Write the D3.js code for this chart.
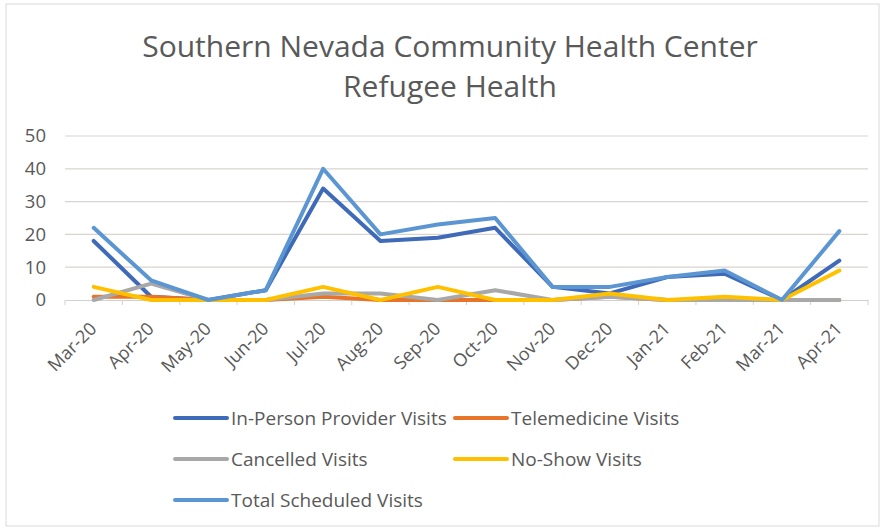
<!DOCTYPE html>
<html><head><meta charset="utf-8">
<script src="https://cdn.jsdelivr.net/npm/d3@7"></script>
<style>body{margin:0;background:#fff}svg{display:block}text{font-family:"Open Sans",sans-serif}</style>
</head><body><svg id="c" width="883" height="530"></svg>
<script>
const categories = ["Mar-20","Apr-20","May-20","Jun-20","Jul-20","Aug-20","Sep-20","Oct-20","Nov-20","Dec-20","Jan-21","Feb-21","Mar-21","Apr-21"];
const inPerson   = [18, 1, 0, 3, 34, 18, 19, 22, 4, 2, 7, 8, 0, 12];
const telemed    = [1, 1, 0, 0, 1, 0, 0, 0, 0, 1, 0, 0, 0, 0];
const cancelled  = [0, 5, 0, 0, 2, 2, 0, 3, 0, 1, 0, 0, 0, 0];
const noShow     = [4, 0, 0, 0, 4, 0, 4, 0, 0, 2, 0, 1, 0, 9];
const total      = [22, 6, 0, 3, 40, 20, 23, 25, 4, 4, 7, 9, 0, 21];
const yTicks = [0, 10, 20, 30, 40, 50];
const seriesNames = ["In-Person Provider Visits","Telemedicine Visits","Cancelled Visits","No-Show Visits","Total Scheduled Visits"];
const seriesColors = ["#3E6AB8","#E8742A","#A8A8A8","#FFC000","#5B96D3"];
const seriesData = [inPerson, telemed, cancelled, noShow, total];

const svg = d3.select("#c");
svg.append("rect").attr("x",6).attr("y",4).attr("width",873).attr("height",522)
  .attr("fill","none").attr("stroke","#d9d9d9").attr("stroke-width",1);

const L=65, R=868, T=136, B=300;
const x = d3.scaleBand().domain(categories).range([L,R]);
const y = d3.scaleLinear().domain([0,50]).range([B,T]);

const title = svg.append("g").attr("fill","#595959").attr("font-size",30);
title.append("text").attr("x",450).attr("y",57).attr("text-anchor","middle").text("Southern Nevada Community Health Center");
title.append("text").attr("x",450).attr("y",97).attr("text-anchor","middle").text("Refugee Health");

// gridlines
svg.append("g").selectAll("line").data(yTicks.filter(d=>d>0)).join("line")
  .attr("x1",L).attr("x2",R).attr("y1",d=>y(d)).attr("y2",d=>y(d))
  .attr("stroke","#d9d4cf").attr("stroke-width",1.2);

// y axis labels
const ya = svg.append("g").attr("transform",`translate(${L},0)`)
  .call(d3.axisLeft(y).tickValues(yTicks).tickSize(0).tickPadding(19));
ya.select(".domain").remove();
ya.selectAll("text").attr("font-size",18.5).attr("fill","#595959").attr("font-family","Open Sans,sans-serif");

// x axis
const xa = svg.append("g").attr("transform",`translate(0,${B})`)
  .call(d3.axisBottom(x).tickSize(0).tickPadding(0));
xa.select(".domain").attr("stroke","#d0d0d0").attr("stroke-width",1.2);
xa.selectAll(".tick text").attr("font-size",18).attr("fill","#595959").attr("font-family","Open Sans,sans-serif")
  .attr("text-anchor","end").attr("dy",0).attr("y",0)
  .attr("transform","translate(4,30) rotate(-45)");
// category boundary ticks
svg.append("g").selectAll("line").data(d3.range(categories.length+1)).join("line")
  .attr("x1",i=>L+i*x.step()).attr("x2",i=>L+i*x.step())
  .attr("y1",B).attr("y2",B+5).attr("stroke","#d0d0d0");

const line = d3.line().x((d,i)=>x(categories[i])+x.bandwidth()/2).y(d=>y(d));
seriesData.forEach((s,k)=>{
  svg.append("path").datum(s).attr("d",line).attr("fill","none")
    .attr("stroke",seriesColors[k]).attr("stroke-width",4)
    .attr("stroke-linejoin","round").attr("stroke-linecap","round");
});

// legend
const legPos = [[175,418],[455,418],[175,459],[455,459],[175,500]];
seriesNames.forEach((n,k)=>{
  const [lx,ly]=legPos[k];
  svg.append("line").attr("x1",lx).attr("x2",lx+52).attr("y1",ly).attr("y2",ly)
    .attr("stroke",seriesColors[k]).attr("stroke-width",4).attr("stroke-linecap","round");
  svg.append("text").attr("x",lx+56).attr("y",ly+6.5).attr("font-size",19)
    .attr("fill","#595959").text(n);
});
</script></body></html>
